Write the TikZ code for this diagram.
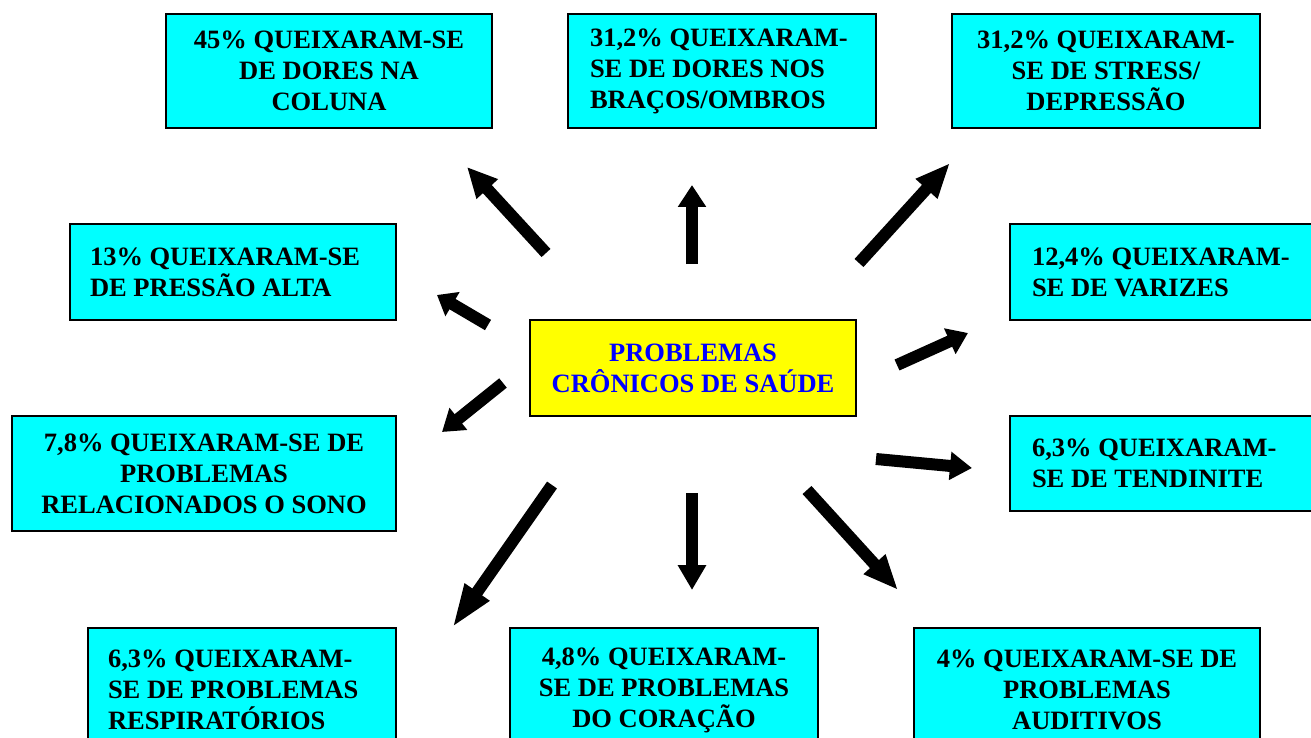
\documentclass[tikz,border=0pt]{standalone}
\usepackage{fontspec}
\setmainfont{Liberation Serif}
\usetikzlibrary{arrows.meta}
\definecolor{boxcyan}{RGB}{0,255,255}
\definecolor{boxyellow}{RGB}{255,255,0}
\definecolor{textblue}{RGB}{0,0,255}
\begin{document}
\begin{tikzpicture}[x=1pt,y=-1pt,
  box/.style={draw=black, line width=2pt, fill=boxcyan, inner sep=0pt,
    font=\bfseries\fontsize{26.5pt}{31pt}\selectfont},
  cbox/.style={box, align=center},
  lbox/.style={box, align=flush left, inner xsep=#1},
  mainbox/.style={box, fill=boxyellow, text=textblue, align=center},
  barrow/.style={line width=12pt, -{Triangle[length=#1, width=27pt]}}
]
\useasboundingbox (0,0) rectangle (1311,738);

% boxes
\node[cbox, minimum width=326pt, minimum height=114pt] (b1) at (329,71)
  {45\% QUEIXARAM-SE\\DE DORES NA\\COLUNA};
\node[lbox=22pt, text width=264pt, minimum height=114pt] (b2) at (722,71)
  {31,2\% QUEIXARAM-\\SE DE DORES NOS\\BRAÇOS/OMBROS};
\node[cbox, minimum width=308pt, minimum height=114pt] (b3) at (1106,71)
  {31,2\% QUEIXARAM-\\SE DE STRESS/\\DEPRESSÃO};
\node[lbox=20pt, text width=286pt, minimum height=96pt] (b4) at (233,272)
  {13\% QUEIXARAM-SE\\DE PRESSÃO ALTA};
\node[lbox=22pt, text width=280pt, minimum height=96pt] (b5) at (1172,272)
  {12,4\% QUEIXARAM-\\SE DE VARIZES};
\node[mainbox, minimum width=326pt, minimum height=96pt] (c) at (693,368)
  {PROBLEMAS\\CRÔNICOS DE SAÚDE};
\node[cbox, minimum width=384pt, minimum height=115pt] (b6) at (204,473.5)
  {7,8\% QUEIXARAM-SE DE\\PROBLEMAS\\RELACIONADOS O SONO};
\node[lbox=22pt, text width=280pt, minimum height=95pt] (b7) at (1172,463.5)
  {6,3\% QUEIXARAM-\\SE DE TENDINITE};
\node[lbox=20pt, text width=268pt, minimum height=124pt] (b8) at (242,690)
  {6,3\% QUEIXARAM-\\SE DE PROBLEMAS\\RESPIRATÓRIOS};
\node[cbox, minimum width=308pt, minimum height=124pt] (b9) at (664,690)
  {4,8\% QUEIXARAM-\\SE DE PROBLEMAS\\DO CORAÇÃO};
\node[cbox, minimum width=346pt, minimum height=124pt] (b10) at (1087,690)
  {4\% QUEIXARAM-SE DE\\PROBLEMAS\\AUDITIVOS};

% arrow ends
\coordinate (a1s) at (546,253);  \coordinate (a1e) at (467,167);
\coordinate (a2s) at (692,264);  \coordinate (a2e) at (692,185);
\coordinate (a3s) at (859,263);  \coordinate (a3e) at (950,163);
\coordinate (a4s) at (488,325);  \coordinate (a4e) at (437,295);
\coordinate (a5s) at (897,365);  \coordinate (a5e) at (968,333);
\coordinate (a6s) at (503,383);  \coordinate (a6e) at (442,432);
\coordinate (a7s) at (552,485);  \coordinate (a7e) at (452,628);
\coordinate (a8s) at (692,493);  \coordinate (a8e) at (692,590);
\coordinate (a9s) at (807,490);  \coordinate (a9e) at (898,590);
\coordinate (a10s) at (876,459); \coordinate (a10e) at (972,468);

\draw[barrow=30pt] (a1s) -- (a1e);
\draw[barrow=22pt] (a2s) -- (a2e);
\draw[barrow=35pt] (a3s) -- (a3e);
\draw[barrow=18pt] (a4s) -- (a4e);
\draw[barrow=20pt] (a5s) -- (a5e);
\draw[barrow=21pt] (a6s) -- (a6e);
\draw[barrow=44pt] (a7s) -- (a7e);
\draw[barrow=25pt] (a8s) -- (a8e);
\draw[barrow=35pt] (a9s) -- (a9e);
\draw[barrow=22pt] (a10s) -- (a10e);
\end{tikzpicture}
\end{document}
